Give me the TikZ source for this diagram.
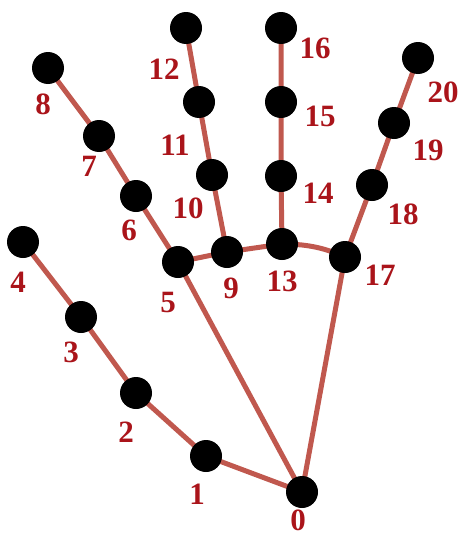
\documentclass[tikz,border=0pt]{standalone}
\usepackage{fontspec}
\setmainfont{Liberation Serif}
\definecolor{bone}{RGB}{192,88,78}
\definecolor{lbl}{RGB}{170,20,26}
\begin{document}
\begin{tikzpicture}[x=1pt,y=-1pt,
  joint/.style={circle,fill=black,inner sep=0pt,minimum size=32pt},
  num/.style={text=lbl,font=\bfseries\fontsize{31}{31}\selectfont,inner sep=0pt},
  bonel/.style={draw=bone,line width=5pt}]
\useasboundingbox (0,0) rectangle (463,538);
\coordinate (p0) at (302,492);
\coordinate (p1) at (206,456);
\coordinate (p2) at (136,393);
\coordinate (p3) at (81,317);
\coordinate (p4) at (23,242);
\coordinate (p5) at (178,262);
\coordinate (p6) at (136,196);
\coordinate (p7) at (99,136);
\coordinate (p8) at (48,68);
\coordinate (p9) at (227,252);
\coordinate (p10) at (212,175);
\coordinate (p11) at (199,102);
\coordinate (p12) at (186,28);
\coordinate (p13) at (282,244);
\coordinate (p14) at (281,176);
\coordinate (p15) at (281,102);
\coordinate (p16) at (281,28);
\coordinate (p17) at (345,257);
\coordinate (p18) at (372,185);
\coordinate (p19) at (394,123);
\coordinate (p20) at (418,58);
\draw[bonel] (p0) -- (p1) -- (p2) -- (p3) -- (p4);
\draw[bonel] (p0) -- (p5) -- (p6) -- (p7) -- (p8);
\draw[bonel] (p5) -- (p9) -- (p13) .. controls +(28,0) and +(-18,-8) .. (p17);
\draw[bonel] (p9) -- (p10) -- (p11) -- (p12);
\draw[bonel] (p13) -- (p14) -- (p15) -- (p16);
\draw[bonel] (p0) -- (p17) -- (p18) -- (p19) -- (p20);
\foreach \i in {0,...,20} {\node[joint] (n\i) at (p\i) {};}
\node[num] (l0) at (298,520) {0};
\node[num] (l1) at (197,494) {1};
\node[num] (l2) at (126,432) {2};
\node[num] (l3) at (71,352) {3};
\node[num] (l4) at (18,282) {4};
\node[num] (l5) at (168,302) {5};
\node[num] (l6) at (129,230) {6};
\node[num] (l7) at (89,166) {7};
\node[num] (l8) at (43,104) {8};
\node[num] (l9) at (231,288) {9};
\node[num] (l10) at (188,208) {10};
\node[num] (l11) at (175,145) {11};
\node[num] (l12) at (164,69) {12};
\node[num] (l13) at (282,281) {13};
\node[num] (l14) at (318,193) {14};
\node[num] (l15) at (320,116) {15};
\node[num] (l16) at (315,48) {16};
\node[num] (l17) at (380,275) {17};
\node[num] (l18) at (403,214) {18};
\node[num] (l19) at (428,150) {19};
\node[num] (l20) at (443,92) {20};
\end{tikzpicture}
\end{document}
